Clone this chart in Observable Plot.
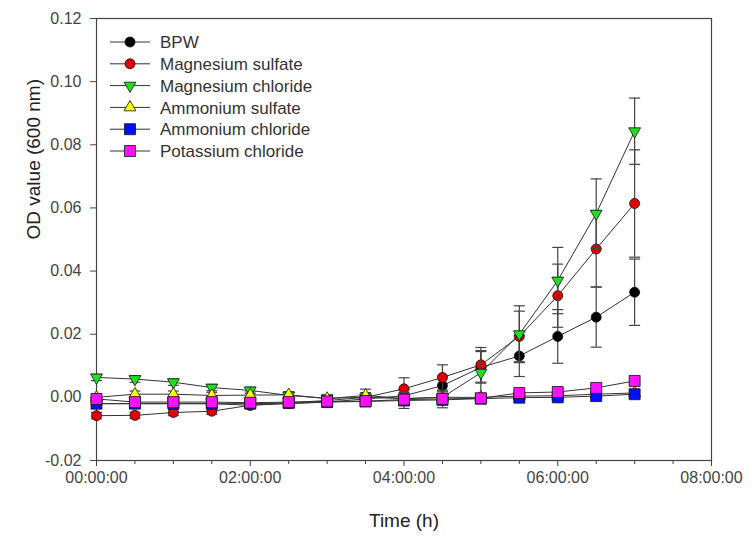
<!DOCTYPE html>
<html>
<head>
<meta charset="utf-8">
<script src="https://cdn.jsdelivr.net/npm/d3@7"></script>
<script src="https://cdn.jsdelivr.net/npm/@observablehq/plot@0.6"></script>
<style>
  html, body { margin: 0; padding: 0; background: #fff; }
  #chart { position: relative; width: 752px; height: 537px; }
  #legend { position: absolute; left: 0; top: 0; pointer-events: none; }
</style>
</head>
<body>
<div id="chart"></div>
<script>
// Sampling times (h)
const hours = [0, 0.5, 1, 1.5, 2, 2.5, 3, 3.5, 4, 4.5, 5, 5.5, 6, 6.5, 7];

// Mean OD600 and standard deviation per medium
const bpw      = [-0.0020, -0.0020, -0.0020, -0.0020, -0.0025, -0.0020, -0.0015, -0.0005, 0.0005, 0.0037, 0.0095, 0.0131, 0.0193, 0.0254, 0.0333];
const bpwErr   = [0.0010, 0.0010, 0.0010, 0.0010, 0.0010, 0.0010, 0.0010, 0.0012, 0.0020, 0.0030, 0.0050, 0.0065, 0.0085, 0.0095, 0.0105];
const mgSulf   = [-0.0058, -0.0057, -0.0048, -0.0044, -0.0025, -0.0017, -0.0010, 0.0000, 0.0027, 0.0063, 0.0103, 0.0193, 0.0322, 0.0470, 0.0614];
const mgSulfErr= [0.0010, 0.0010, 0.0010, 0.0010, 0.0010, 0.0010, 0.0010, 0.0015, 0.0035, 0.0040, 0.0055, 0.0080, 0.0100, 0.0120, 0.0170];
const mgChl    = [0.0063, 0.0058, 0.0048, 0.0031, 0.0022, 0.0006, -0.0003, 0.0000, -0.0004, 0.0000, 0.0078, 0.0200, 0.0370, 0.0582, 0.0843];
const mgChlErr = [0.0010, 0.0010, 0.0010, 0.0010, 0.0010, 0.0010, 0.0010, 0.0010, 0.0015, 0.0020, 0.0070, 0.0090, 0.0105, 0.0110, 0.0105];
const amSulf   = [0.0000, 0.0010, 0.0010, 0.0006, 0.0007, 0.0008, -0.0004, 0.0006, -0.0004, 0.0000, 0.0000, 0.0004, 0.0005, 0.0010, 0.0014];
const amSulfErr= [0.0010, 0.0010, 0.0010, 0.0010, 0.0010, 0.0010, 0.0010, 0.0020, 0.0010, 0.0010, 0.0010, 0.0010, 0.0010, 0.0010, 0.0010];
const amChl    = [-0.0020, -0.0020, -0.0020, -0.0020, -0.0020, -0.0018, -0.0015, -0.0013, -0.0010, -0.0008, -0.0004, -0.0001, 0.0000, 0.0004, 0.0010];
const amChlErr = [0.0010, 0.0010, 0.0010, 0.0010, 0.0010, 0.0010, 0.0010, 0.0010, 0.0025, 0.0025, 0.0010, 0.0010, 0.0010, 0.0010, 0.0010];
const kChl     = [-0.0005, -0.0015, -0.0015, -0.0015, -0.0017, -0.0015, -0.0013, -0.0012, -0.0007, -0.0005, -0.0003, 0.0014, 0.0017, 0.0030, 0.0052];
const kChlErr  = [0.0010, 0.0010, 0.0010, 0.0010, 0.0010, 0.0010, 0.0010, 0.0010, 0.0010, 0.0010, 0.0010, 0.0010, 0.0010, 0.0010, 0.0010];

const seriesNames  = ["BPW", "Magnesium sulfate", "Magnesium chloride", "Ammonium sulfate", "Ammonium chloride", "Potassium chloride"];
const seriesValues = [bpw, mgSulf, mgChl, amSulf, amChl, kChl];
const seriesErrors = [bpwErr, mgSulfErr, mgChlErr, amSulfErr, amChlErr, kChlErr];
const seriesFills  = ["#000000", "#e00000", "#22dd22", "#ffff00", "#0010ff", "#ff10ff"];
const seriesShapes = ["circle", "circle", "triangle-down", "triangle", "square", "square"];

// Axis ticks
const xTicks = [0, 2, 4, 6, 8];
const xMinorTicks = [0.5, 1, 1.5, 2.5, 3, 3.5, 4.5, 5, 5.5, 6.5, 7, 7.5];
const yTicks = [-0.02, 0, 0.02, 0.04, 0.06, 0.08, 0.10, 0.12];

// Marker geometry per shape (radius for Plot, plus rotation)
const shapeStyle = {
  "circle":        {symbol: "circle",   r: 5.0, rotate: 0},
  "triangle":      {symbol: "triangle", r: 4.4, rotate: 0},
  "triangle-down": {symbol: "triangle", r: 4.4, rotate: 180},
  "square":        {symbol: "square",   r: 6.2, rotate: 0}
};

// Horizontal error-bar cap drawn as a symbol
const capSymbol = {
  draw(context, size) {
    const w = Math.sqrt(size / Math.PI);
    context.moveTo(-w, 0);
    context.lineTo(w, 0);
  }
};

const fmtHour = h => String(h).padStart(2, "0") + ":00:00";

const marks = [];
seriesNames.forEach((name, i) => {
  const rows = hours.map((t, j) => ({
    t, v: seriesValues[i][j],
    lo: seriesValues[i][j] - seriesErrors[i][j],
    hi: seriesValues[i][j] + seriesErrors[i][j]
  }));
  const s = shapeStyle[seriesShapes[i]];
  marks.push(
    Plot.ruleX(rows, {x: "t", y1: "lo", y2: "hi", stroke: "#444", strokeWidth: 1.2}),
    Plot.dot(rows, {x: "t", y: "hi", symbol: capSymbol, r: 5.5, stroke: "#444", strokeWidth: 1.2, fill: "none"}),
    Plot.dot(rows, {x: "t", y: "lo", symbol: capSymbol, r: 5.5, stroke: "#444", strokeWidth: 1.2, fill: "none"}),
    Plot.line(rows, {x: "t", y: "v", stroke: "#333", strokeWidth: 1}),
    Plot.dot(rows, {x: "t", y: "v", symbol: s.symbol, r: s.r, rotate: s.rotate,
      fill: seriesFills[i], stroke: "#111", strokeWidth: 0.8})
  );
});

const chart = Plot.plot({
  width: 752,
  height: 537,
  marginLeft: 96,
  marginRight: 41,
  marginTop: 18,
  marginBottom: 77,
  style: {fontFamily: "'Liberation Sans', Arial, sans-serif", fontSize: "16px", color: "#444", background: "#fff"},
  x: {type: "linear", domain: [0, 8]},
  y: {type: "linear", domain: [-0.02, 0.12]},
  marks: [
    Plot.frame({stroke: "#444", strokeWidth: 1.2}),
    Plot.axisX({ticks: xTicks, tickFormat: fmtHour, tickSize: 6, tickPadding: 5, label: null, stroke: "#444"}),
    Plot.axisX({ticks: xMinorTicks, tickFormat: () => "", tickSize: 4, label: null, stroke: "#444"}),
    Plot.axisY({ticks: yTicks, tickFormat: d => d.toFixed(2), tickSize: 6, tickPadding: 9, label: null, stroke: "#444"}),
    Plot.text(["Time (h)"], {frameAnchor: "bottom", dy: 66, fontSize: 19, fill: "#222"}),
    Plot.text(["OD value (600 nm)"], {frameAnchor: "left", dx: -63, rotate: -90, fontSize: 19, fill: "#222"}),
    ...marks
  ]
});

const container = document.getElementById("chart");
container.appendChild(chart);

// Legend in the upper-left corner of the plotting area
const legend = d3.select(container).append("svg")
  .attr("id", "legend")
  .attr("width", 752).attr("height", 537)
  .style("font-family", "'Liberation Sans', Arial, sans-serif");

const rowY = d3.scaleLinear().domain([0, 1]).range([42, 63.8]);
seriesNames.forEach((name, i) => {
  const y = rowY(i);
  const g = legend.append("g").attr("transform", `translate(0,${y})`);
  g.append("line").attr("x1", 110).attr("x2", 150).attr("y1", 0).attr("y2", 0)
    .attr("stroke", "#333").attr("stroke-width", 1);
  const s = shapeStyle[seriesShapes[i]];
  const sym = {circle: d3.symbolCircle, triangle: d3.symbolTriangle, square: d3.symbolSquare}[s.symbol];
  g.append("path")
    .attr("d", d3.symbol(sym, s.r * s.r * Math.PI)())
    .attr("transform", `translate(130,0) rotate(${s.rotate})`)
    .attr("fill", seriesFills[i]).attr("stroke", "#111").attr("stroke-width", 0.8);
  g.append("text").attr("x", 160).attr("y", 0).attr("dy", "0.36em")
    .attr("font-size", 17).attr("fill", "#333").text(name);
});
</script>
</body>
</html>
